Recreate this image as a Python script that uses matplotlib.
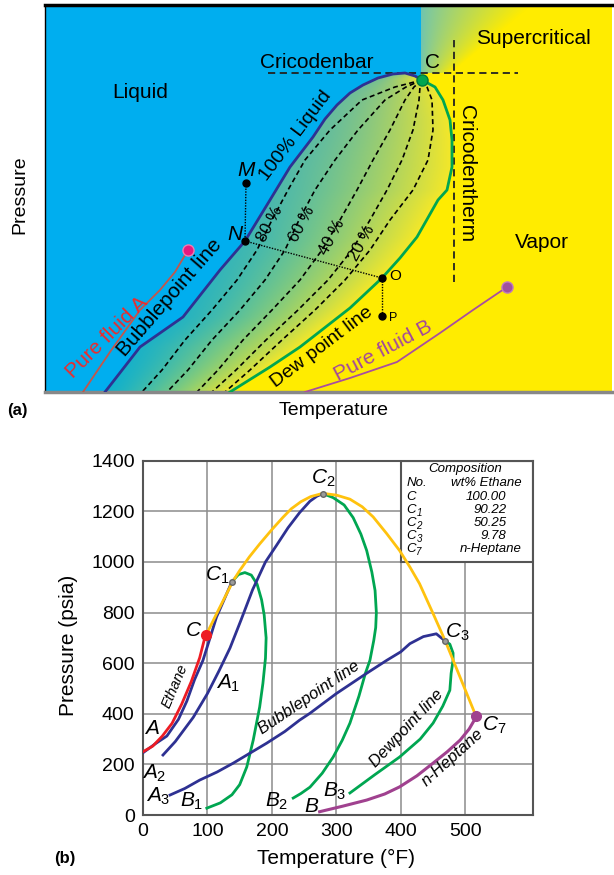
import numpy as np
import matplotlib.pyplot as plt
from matplotlib.path import Path
from matplotlib.patches import Rectangle

plt.rcParams['font.family'] = ['Liberation Sans', 'DejaVu Sans']
plt.rcParams['mathtext.fontset'] = 'custom'
plt.rcParams['mathtext.it'] = 'Liberation Sans:italic'
plt.rcParams['mathtext.rm'] = 'Liberation Sans'

# ---------------- (a) schematic phase envelope (arbitrary T, P units)
bub_T = [105, 140, 183, 220, 245, 270, 290, 313, 325, 337, 350, 363, 378, 393, 405, 415, 422]
bub_P = [0, 45, 75, 122, 151, 192, 225, 255, 273, 287, 299, 307, 314, 318, 319, 316, 312]
dew_T = [422, 435, 443, 450, 452, 452, 447, 438, 417, 400, 382, 350, 300, 270, 230]
dew_P = [312, 305, 292, 272, 252, 225, 202, 192, 155, 134, 114, 84, 45, 25, 0]

q_P = [312, 305, 292, 262, 232, 202, 172, 142, 112, 82, 52, 22, 0]
q_lines = {
    '80': [422, 395, 362, 330, 305, 288, 272, 257, 237, 212, 185, 162, 142],
    '60': [422, 406, 385, 358, 335, 315, 299, 285, 265, 240, 212, 188, 167],
    '40': [422, 414, 405, 390, 373, 357, 340, 322, 300, 272, 243, 218, 197],
    '20': [422, 420, 419, 413, 402, 387, 370, 352, 328, 298, 266, 236, 212],
    '10': [422, 427, 432, 433, 428, 413, 390, 370, 345, 315, 282, 250, 225],
}
crit_a = (422, 312)
cricodenbar_P = 319
cricodenbar_T = (268, 518)
cricodentherm_T = 454
cricodentherm_P = (110, 355)

fluidA_T = [83, 110, 140, 160, 175, 188]
fluidA_P = [0, 40, 82, 102, 120, 142]
fluidB_T = [305, 350, 397, 440, 473, 507]
fluidB_P = [0, 14, 30, 59, 82, 105]

pt_M = (246, 209)
pt_N = (245, 151)
pt_O = (382, 114)
pt_P = (382, 76)

# ---------------- (b) ethane / n-heptane mixtures
eth_T = [0, 15, 30, 45, 60, 75, 88, 97]
eth_P = [250, 272, 312, 362, 438, 528, 622, 712]

c1_bub_T = [0, 20, 37, 55, 68, 80, 93, 104, 114, 126, 138]
c1_bub_P = [246, 283, 312, 378, 450, 535, 611, 700, 782, 852, 922]
c1_dew_T = [138, 148, 158, 168, 177, 184, 188, 191, 190, 186, 181, 171, 161, 150, 138, 120, 99]
c1_dew_P = [922, 950, 958, 948, 912, 850, 790, 700, 620, 520, 427, 296, 190, 120, 80, 48, 27]

c2_bub_T = [31, 50, 78, 100, 118, 135, 152, 170, 190, 207, 225, 243, 259, 270, 279]
c2_bub_P = [237, 290, 386, 480, 570, 660, 770, 890, 1000, 1065, 1135, 1195, 1240, 1260, 1270]
c2_dew_T = [279, 295, 312, 326, 338, 347, 355, 360, 362, 361, 358, 352, 345, 335, 321, 309, 295, 278, 259, 245, 233]
c2_dew_P = [1270, 1254, 1225, 1175, 1110, 1045, 960, 887, 800, 741, 690, 611, 560, 470, 363, 295, 229, 165, 110, 85, 67]

c3_bub_T = [42, 65, 88, 115, 140, 165, 192, 220, 243, 259, 300, 347, 378, 400, 414, 435, 455, 469]
c3_bub_P = [79, 105, 138, 170, 205, 243, 284, 330, 375, 402, 480, 560, 611, 645, 677, 705, 716, 687]
c3_dew_T = [469, 476, 481, 481, 478, 476, 465, 450, 430, 398, 360, 321]
c3_dew_P = [687, 675, 640, 611, 560, 493, 430, 363, 300, 229, 160, 87]

hep_T = [274, 310, 347, 375, 398, 425, 450, 472, 492, 506, 517]
hep_P = [13, 35, 59, 83, 111, 155, 205, 250, 296, 340, 388]

locus_T = [98, 118, 140, 150, 165, 181, 200, 217, 230, 245, 260, 279, 300, 321, 340, 357, 378, 398, 414, 429, 450, 469, 517]
locus_P = [712, 815, 926, 966, 1020, 1071, 1128, 1176, 1210, 1238, 1258, 1271, 1264, 1248, 1218, 1178, 1112, 1045, 980, 914, 796, 687, 388]

crit_pts = {'C': (97, 712), 'C1': (138, 922), 'C2': (279, 1270), 'C3': (469, 687), 'C7': (517, 390)}

comp_subs = ['', '1', '2', '3', '7']
comp_vals = ['100.00', '90.22', '50.25', '9.78', 'n-Heptane']

navy = '#2e3192'
green = '#00a651'
blue_bg = np.array([0, 174, 239]) / 255
yel_bg = np.array([255, 236, 0]) / 255

fig = plt.figure(figsize=(6.14, 8.75), dpi=100)

# ================= panel (a)
ax = fig.add_axes([45 / 614, 1 - 392 / 875, 567 / 614, 387 / 875])
x0, x1, y0, y1 = 45, 612, 0, 387
W, H = x1 - x0, y1 - y0
xs = x0 + np.arange(W) + 0.5
ps = y1 - (np.arange(H) + 0.5)
X, PP = np.meshgrid(xs, ps)

poly = Path(list(zip(bub_T, bub_P)) + list(zip(dew_T[1:], dew_P[1:])))
inside = poly.contains_points(np.column_stack([X.ravel(), PP.ravel()])).reshape(X.shape)
xb = np.interp(PP, bub_P[:15], bub_T[:15])
xd = np.where(PP <= 312, np.interp(PP, dew_P[::-1], dew_T[::-1]), 422)
f = np.clip((X - xb) / np.maximum(xd - xb, 1), 0, 1)
h = np.clip(PP / 319, 0, 1)[..., None]
c_left = np.array([15, 176, 205]) / 255 * (1 - h) + np.array([115, 190, 150]) / 255 * h
c_right = np.array([245, 232, 40]) / 255
two_phase = c_left + (c_right - c_left) * (f[..., None] ** 1.3)

t = np.clip((X - 421) / (30 + (PP - 319) * 1.2), 0, 1)[..., None] ** 0.8
superc = np.array([110, 196, 178]) / 255 * (1 - t) + yel_bg * t

img = np.empty(X.shape + (3,))
is_blue = ((X < 421) & (PP > 312)) | (X < xb)
img[:] = yel_bg
img[is_blue] = blue_bg
sc = (PP > 319) & (X >= 421)
img[sc] = superc[sc]
img[inside] = two_phase[inside]
ax.imshow(img, extent=(x0, x1, y0, y1), aspect='auto', origin='upper', zorder=0)

for k, tl in q_lines.items():
    ax.plot(tl, q_P, color='black', lw=1.2, ls=(0, (3, 2)), zorder=2)
ax.plot(bub_T, bub_P, color=navy, lw=2, zorder=3)
ax.plot(dew_T, dew_P, color=green, lw=2, zorder=3)
ax.plot(*crit_a, 'o', color='#00a651', mec='#007a3a', ms=8, zorder=4)

ax.plot(cricodenbar_T, [cricodenbar_P] * 2, color='#222222', lw=1.3, ls=(0, (4, 2.5)), zorder=2)
ax.plot([cricodentherm_T] * 2, cricodentherm_P, color='#222222', lw=1.3, ls=(0, (4, 2.5)), zorder=2)

ax.plot(fluidA_T, fluidA_P, color='#c4564a', lw=1.3, zorder=3)
ax.plot(fluidA_T[-1], fluidA_P[-1], 'o', color='#e5197e', mec='#f07ab0', ms=8, zorder=4)
ax.plot(fluidB_T, fluidB_P, color='#a84ea0', lw=1.3, zorder=3)
ax.plot(fluidB_T[-1], fluidB_P[-1], 'o', color='#a0509f', mec='#c07ac0', ms=8, zorder=4)

ax.plot([pt_M[0], pt_N[0]], [pt_M[1], pt_N[1]], color='black', lw=1, ls=(0, (1, 1)), zorder=3)
ax.plot([pt_N[0], pt_O[0]], [pt_N[1], pt_O[1]], color='black', lw=1, ls=(0, (1, 1)), zorder=3)
ax.plot([pt_O[0], pt_P[0]], [pt_O[1], pt_P[1]], color='black', lw=1, ls=(0, (1, 1)), zorder=3)
for p in [pt_M, pt_N, pt_O, pt_P]:
    ax.plot(*p, 'o', color='black', ms=5, zorder=5)

txt = dict(ha='center', va='center', zorder=6)
ax.text(140, 300, 'Liquid', fontsize=15, **txt)
ax.text(317, 330, 'Cricodenbar', fontsize=15, **txt)
ax.text(432, 330, 'C', fontsize=15, **txt)
ax.text(533, 354, 'Supercritical', fontsize=15, **txt)
ax.text(467, 218, 'Cricodentherm', fontsize=15, rotation=-90, **txt)
ax.text(542, 149, 'Vapor', fontsize=15, **txt)
ax.text(296, 256, '100% Liquid', fontsize=14, rotation=53, **txt)
ax.text(170, 94, 'Bubblepoint line', fontsize=15, rotation=49, **txt)
ax.text(107, 55, 'Pure fluid A', fontsize=15, rotation=45, color='#ee2a2a', **txt)
ax.text(322, 45, 'Dew point line', fontsize=14, rotation=37, **txt)
ax.text(383, 41, 'Pure fluid B', fontsize=15, rotation=28, color='#a2489c', **txt)
for lab, (tx, ty) in zip(['80 %', '60 %', '40 %', '20 %'], [(270, 168), (302, 168), (332, 155), (362, 149)]):
    ax.text(tx, ty, lab, fontsize=12, rotation=62, **txt)
ax.text(246, 221, 'M', fontsize=15, style='italic', **txt)
ax.text(235, 157, 'N', fontsize=15, style='italic', **txt)
ax.text(395, 116, 'O', fontsize=11, **txt)
ax.text(393, 74, 'P', fontsize=9, **txt)

ax.set_xlim(x0, x1)
ax.set_ylim(y0, y1)
ax.set_xticks([])
ax.set_yticks([])
ax.spines['right'].set_visible(False)
ax.spines['top'].set_linewidth(2.5)
ax.spines['left'].set_linewidth(1)
ax.spines['bottom'].set_color('#888888')
ax.spines['bottom'].set_linewidth(2.5)

fig.text(20 / 614, 1 - 195 / 875, 'Pressure', rotation=90, fontsize=14, ha='center', va='center')
fig.text(334 / 614, 1 - 410 / 875, 'Temperature', fontsize=14, ha='center', va='center')
fig.text(17 / 614, 1 - 410 / 875, '(a)', fontsize=12, weight='bold', ha='center', va='center')

# ================= panel (b)
bx = fig.add_axes([143 / 614, 1 - 815 / 875, 390 / 614, 354.3 / 875])
bx.set_xlim(0, 605)
bx.set_ylim(0, 1400)
bx.set_xticks(range(0, 600, 100))
bx.set_yticks(range(0, 1401, 200))
bx.grid(True, color='#8c8c8c', lw=1.1)
bx.set_axisbelow(True)
bx.tick_params(length=0, labelsize=14, pad=6)
for s in bx.spines.values():
    s.set_color('#555555')
    s.set_linewidth(1.5)

bx.add_patch(Rectangle((400, 1000), 205, 400, fc='white', ec='#555555', lw=1.5, zorder=2))

bx.plot(locus_T, locus_P, color='#ffc20e', lw=2, zorder=4)
bx.plot(eth_T, eth_P, color='#ed1c24', lw=2, zorder=4)
bx.plot(c1_bub_T, c1_bub_P, color=navy, lw=2, zorder=3)
bx.plot(c1_dew_T, c1_dew_P, color=green, lw=2, zorder=3)
bx.plot(c2_bub_T, c2_bub_P, color=navy, lw=2, zorder=3)
bx.plot(c2_dew_T, c2_dew_P, color=green, lw=2, zorder=3)
bx.plot(c3_bub_T, c3_bub_P, color=navy, lw=2, zorder=3)
bx.plot(c3_dew_T, c3_dew_P, color=green, lw=2, zorder=3)
bx.plot(hep_T, hep_P, color='#a0418f', lw=2.2, zorder=4)

bx.plot(*crit_pts['C'], 'o', color='#ed1c24', ms=7, zorder=5)
bx.plot(*crit_pts['C7'], 'o', color='#a0418f', ms=7, zorder=5)
for k in ['C1', 'C2', 'C3']:
    bx.plot(*crit_pts[k], 'o', color='#9a9a9a', mec='#666666', ms=4, zorder=5)

it = dict(ha='center', va='center', fontsize=15, zorder=6)
bx.text(78, 730, r'$\mathit{C}$', **it)
bx.text(115, 946, r'$\mathit{C_1}$', **it)
bx.text(279, 1329, r'$\mathit{C_2}$', **it)
bx.text(488, 723, r'$\mathit{C_3}$', **it)
bx.text(545, 355, r'$\mathit{C_7}$', **it)
bx.text(14, 342, r'$\mathit{A}$', **it)
bx.text(132, 520, r'$\mathit{A_1}$', **it)
bx.text(18, 165, r'$\mathit{A_2}$', **it)
bx.text(23, 73, r'$\mathit{A_3}$', **it)
bx.text(75, 53, r'$\mathit{B_1}$', **it)
bx.text(207, 53, r'$\mathit{B_2}$', **it)
bx.text(297, 93, r'$\mathit{B_3}$', **it)
bx.text(262, 33, r'$\mathit{B}$', **it)

sm = dict(ha='center', va='center', style='italic', zorder=6)
bx.text(50, 508, 'Ethane', fontsize=10.5, rotation=67, **sm)
bx.text(258, 462, 'Bubblepoint line', fontsize=12, rotation=34, **sm)
bx.text(409, 342, 'Dewpoint line', fontsize=12, rotation=47, **sm)
bx.text(480, 229, 'n-Heptane', fontsize=12, rotation=42, **sm)

tb = dict(style='italic', fontsize=9.5, va='center', zorder=6)
bx.text(499, 1369, 'Composition', ha='center', **tb)
bx.text(409, 1310, 'No.', ha='left', **tb)
bx.text(587, 1310, 'wt% Ethane', ha='right', **tb)
for i, (sub, v) in enumerate(zip(comp_subs, comp_vals)):
    yy = 1256 - i * 51
    bx.text(409, yy, 'C', ha='left', **tb)
    if sub:
        bx.text(424, yy - 12, sub, ha='left', style='italic', fontsize=7, va='center', zorder=6)
    bx.text(564 if i < 4 else 588, yy, v, ha='right', **tb)

fig.text(68 / 614, 1 - 645 / 875, 'Pressure (psia)', rotation=90, fontsize=15, ha='center', va='center')
fig.text(336 / 614, 1 - 858 / 875, 'Temperature (°F)', fontsize=15, ha='center', va='center')
fig.text(65 / 614, 1 - 858 / 875, '(b)', fontsize=12, weight='bold', ha='center', va='center')

fig.savefig('out.png', dpi=100)
